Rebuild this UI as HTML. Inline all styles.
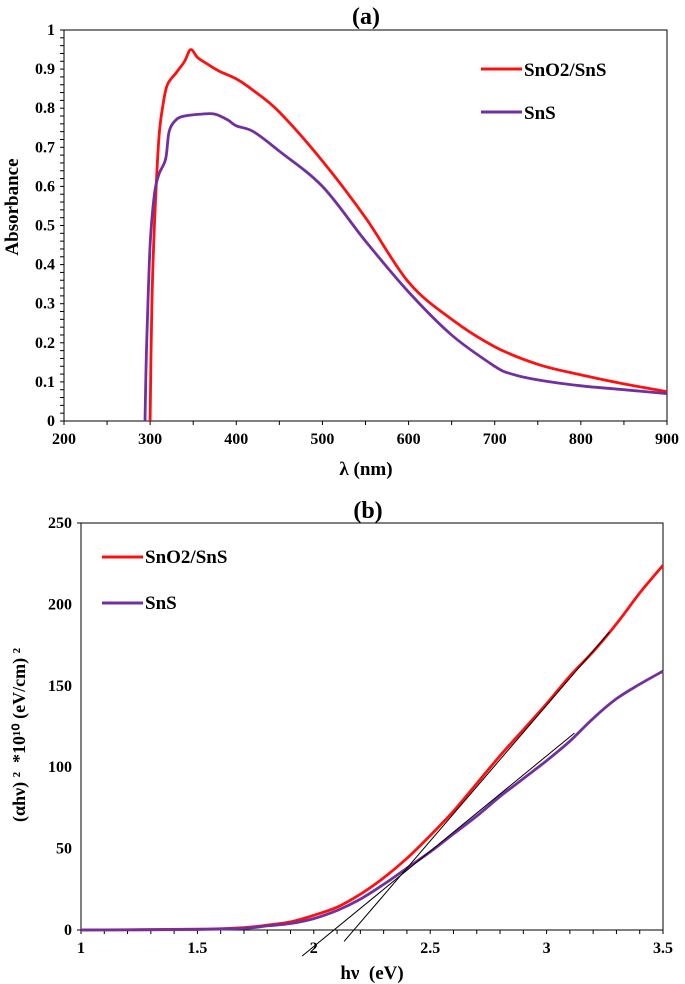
<!DOCTYPE html>
<html><head><meta charset="utf-8"><style>
html,body{margin:0;padding:0;background:#fff;width:685px;height:984px;overflow:hidden}
svg{display:block}
text{font-family:"Liberation Serif",serif;font-weight:bold}
</style></head><body>
<svg id="chart" width="685" height="984" viewBox="0 0 685 984" xmlns="http://www.w3.org/2000/svg">
<g id="ga"></g>
<g id="gb"></g>
<text x="366" y="24" text-anchor="middle" font-size="24">(a)</text>
<text x="366" y="475" text-anchor="middle" font-size="19">λ (nm)</text>
<text transform="translate(18,207) rotate(-90)" text-anchor="middle" font-size="19">Absorbance</text>
<g>
<line x1="481" y1="69" x2="522" y2="69" stroke="#ff1010" stroke-width="3"/>
<text x="524" y="76" font-size="19">SnO2/SnS</text>
<line x1="481" y1="112" x2="522" y2="112" stroke="#7030a0" stroke-width="3"/>
<text x="524" y="119" font-size="19">SnS</text>
</g>
<text x="368" y="518" text-anchor="middle" font-size="24">(b)</text>
<text x="372" y="979" text-anchor="middle" font-size="19" xml:space="preserve">hν  (eV)</text>
<text transform="translate(25,735) rotate(-90)" text-anchor="middle" font-size="18" xml:space="preserve">(αhν) ²  *10¹⁰ (eV/cm) ²</text>
<g>
<line x1="102" y1="557" x2="143" y2="557" stroke="#ff1010" stroke-width="3"/>
<text x="145" y="563" font-size="19">SnO2/SnS</text>
<line x1="102" y1="603" x2="143" y2="603" stroke="#7030a0" stroke-width="3"/>
<text x="145" y="609" font-size="19">SnS</text>
</g>
</svg>
<script>
// Panel (a) data
const aXTicks=[200,300,400,500,600,700,800,900];
const aYTicks=[0,0.1,0.2,0.3,0.4,0.5,0.6,0.7,0.8,0.9,1];
const aRedX=[300,302,305,310,315,320,330,340,347,355,365,380,400,420,450,500,550,600,650,700,750,800,850,900];
const aRedY=[0,0.3,0.5,0.72,0.81,0.86,0.89,0.92,0.95,0.93,0.915,0.895,0.875,0.845,0.79,0.665,0.52,0.355,0.26,0.19,0.145,0.118,0.095,0.075];
const aPurX=[294,296,300,305,310,318,322,330,340,360,375,390,400,420,450,500,550,600,650,700,720,750,800,850,900];
const aPurY=[0,0.2,0.45,0.58,0.63,0.67,0.74,0.77,0.78,0.785,0.785,0.77,0.755,0.74,0.69,0.6,0.46,0.33,0.22,0.14,0.12,0.105,0.09,0.08,0.07];
// Panel (b) data
const bXTicks=[1,1.5,2,2.5,3,3.5];
const bYTicks=[0,50,100,150,200,250];
const bX=[1,1.5,1.7,1.8,1.9,2.0,2.1,2.2,2.3,2.4,2.5,2.6,2.7,2.8,2.9,3.0,3.1,3.2,3.3,3.4,3.5];
const bRedY=[0,0.5,1.5,3,5,9,14,22,32,44,58,73,90,107,123,139,156,171,188,207,224];
const bPurY=[0,0.3,1,2.5,4,7,12,19,28,38,48,59,70,82,93,104,116,130,142,151,159];
const bFitRed=[[2.13,-7],[3.27,183]];
const bFitPur=[[1.95,-16],[3.12,121]];

const NS="http://www.w3.org/2000/svg";
function mk(p,t,a){const e=document.createElementNS(NS,t);for(const k in a)e.setAttribute(k,a[k]);p.appendChild(e);return e;}
function lin(d0,d1,r0,r1){return v=>r0+(v-d0)*(r1-r0)/(d1-d0);}
function smooth(pts){
  let d='M'+pts[0][0].toFixed(1)+','+pts[0][1].toFixed(1);
  for(let i=0;i<pts.length-1;i++){
    const p0=pts[Math.max(0,i-1)],p1=pts[i],p2=pts[i+1],p3=pts[Math.min(pts.length-1,i+2)];
    const c1=[p1[0]+(p2[0]-p0[0])/6,p1[1]+(p2[1]-p0[1])/6],c2=[p2[0]-(p3[0]-p1[0])/6,p2[1]-(p3[1]-p1[1])/6];
    d+='C'+c1[0].toFixed(1)+','+c1[1].toFixed(1)+' '+c2[0].toFixed(1)+','+c2[1].toFixed(1)+' '+p2[0].toFixed(1)+','+p2[1].toFixed(1);
  }
  return d;
}
function panel(g,o){
  const sx=lin(o.xd[0],o.xd[1],o.L,o.R), sy=lin(o.yd[0],o.yd[1],o.B,o.T);
  const fr=mk(g,'rect',{x:o.L,y:o.T,width:o.R-o.L,height:o.B-o.T,fill:'none',stroke:'#000','stroke-width':1});
  
  
  for(let v=o.xd[0];v<=o.xd[1]+1e-9;v+=o.xm){const x=sx(v);const t=mk(g,'line',{x1:x,x2:x,y1:o.B,y2:o.B+4,stroke:'#000'});
    
    }
  for(let v=o.yd[0];v<=o.yd[1]+1e-9;v+=o.ym){const y=sy(v);const t=mk(g,'line',{x1:o.L-4,x2:o.L,y1:y,y2:y,stroke:'#000'});
    
    }
  o.xt.forEach(v=>{const t=mk(g,'text',{x:sx(v),y:o.B+23,'text-anchor':'middle','font-size':16});t.textContent=String(v);
    
    });
  o.yt.forEach(v=>{const t=mk(g,'text',{x:o.L-9,y:sy(v)+5,'text-anchor':'end','font-size':16});t.textContent=String(v);
    
    });
  o.series.forEach(s=>{
    const pts=s.x.map((x,i)=>[sx(x),sy(s.y[i])]);
    const p=mk(g,'path',{d:smooth(pts),fill:'none',stroke:s.c,'stroke-width':2.8,'stroke-linejoin':'round'});
    
    
  });
  (o.fits||[]).forEach(f=>{
    const l=mk(g,'line',{x1:sx(f[0][0]),y1:sy(f[0][1]),x2:sx(f[1][0]),y2:sy(f[1][1]),stroke:'#000','stroke-width':1});
    
    
  });
}
const ga=document.getElementById('ga'), gb=document.getElementById('gb');
panel(ga,{L:64,R:667,T:30,B:421,xd:[200,900],yd:[0,1],xm:50,ym:0.02,xt:aXTicks,yt:aYTicks,
  series:[{x:aRedX,y:aRedY,c:'#ff1010',n:'series-sno2-sns'},{x:aPurX,y:aPurY,c:'#7030a0',n:'series-sns'}]});
panel(gb,{L:81,R:663,T:523,B:930,xd:[1,3.5],yd:[0,250],xm:0.1,ym:250,xt:bXTicks,yt:bYTicks,
  series:[{x:bX,y:bRedY,c:'#ff1010',n:'series-sno2-sns'},{x:bX,y:bPurY,c:'#7030a0',n:'series-sns'}],
  fits:[bFitRed,bFitPur]});
</script>
</body></html>
